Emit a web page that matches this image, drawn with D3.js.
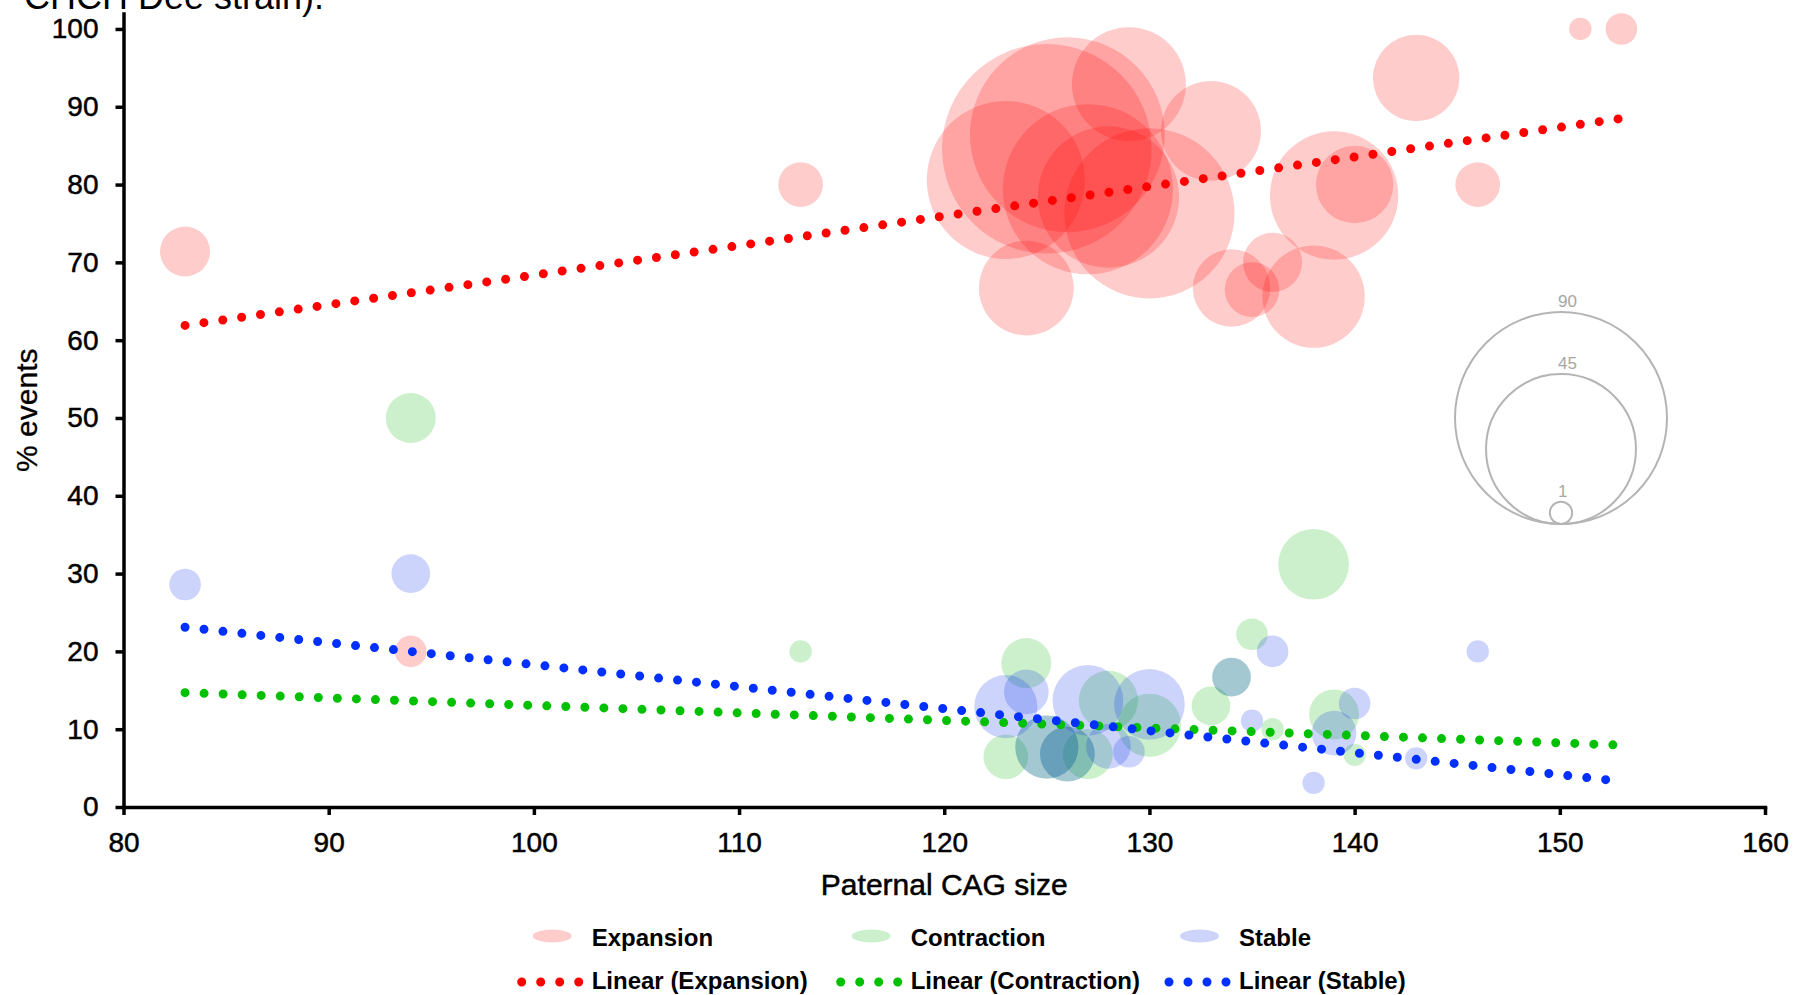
<!DOCTYPE html>
<html>
<head>
<meta charset="utf-8">
<script src="https://d3js.org/d3.v7.min.js"></script>
<style>
  body { margin: 0; background: #fff; }
  text { font-family: "Liberation Sans", Arial, sans-serif; }
</style>
</head>
<body>
<div id="chart"></div>
<script>
// paternal CAG size, % events, bubble size (number of events)
var expansionX = [83, 94, 113, 123, 124, 125, 126, 127, 128, 129, 130, 133, 134, 135, 136, 138, 139, 140, 143, 146, 151, 153];
var expansionY = [71.4, 20, 80, 80.6, 66.7, 84.6, 86.4, 79.4, 78.4, 92.9, 76.3, 86.9, 66.7, 66.5, 70, 65.6, 78.6, 80, 93.7, 80, 100, 100];
var expansionN = [5, 2, 4, 50, 18, 88, 76, 58, 40, 26, 58, 20, 12, 6, 7, 21, 33, 12, 15, 4, 1, 2];

var contractionX = [94, 113, 123, 124, 125, 126, 127, 128, 130, 133, 134, 135, 136, 138, 139, 140];
var contractionY = [50, 20, 6.45, 18.5, 7.7, 6.8, 6.8, 13.7, 10.5, 13, 16.7, 22.2, 10, 31.2, 11.9, 6.7];
var contractionN = [5, 1, 4, 5, 8, 6, 5, 7, 8, 3, 3, 2, 1, 10, 5, 1];

var stableX = [83, 94, 123, 124, 125, 126, 127, 128, 129, 130, 134, 135, 136, 138, 139, 140, 143, 146];
var stableY = [28.6, 30, 12.9, 14.8, 7.7, 6.8, 13.7, 7.8, 7.1, 13.2, 16.7, 11.1, 20, 3.1, 9.5, 13.3, 6.25, 20];
var stableN = [2, 3, 8, 4, 8, 6, 10, 4, 2, 10, 3, 1, 2, 1, 4, 2, 1, 1];

// linear trendlines (start, end)
var trendX = [83, 153];
var trendExpansion = [61.9, 88.5];
var trendContraction = [14.7, 7.95];
var trendStable = [23.1, 3.3];

var xTicks = [80, 90, 100, 110, 120, 130, 140, 150, 160];
var yTicks = [0, 10, 20, 30, 40, 50, 60, 70, 80, 90, 100];
var sizeKey = [90, 45, 1];

(function() {
  var width = 1797,
      height = 995;

  var svg = d3.select("#chart")
    .append("svg")
    .attr("width", width)
    .attr("height", height);

  var x = d3.scaleLinear().domain([80, 160]).range([123.5, 1765]);
  var y = d3.scaleLinear().domain([0, 102]).range([807, 13.4]);
  var r = d3.scaleSqrt().domain([0, 90]).range([0, 106]);

  // end of the caption line above, cut off by the crop
  svg.append("text")
    .attr("x", 24)
    .attr("y", 9)
    .style("font-size", "36px")
    .text("CHCH Dee strain).");

  var series = [
    {name: "Expansion", xs: expansionX, ys: expansionY, ns: expansionN, color: "#ff0000", line: "#ff0000", trend: trendExpansion},
    {name: "Contraction", xs: contractionX, ys: contractionY, ns: contractionN, color: "#00b400", line: "#00c000", trend: trendContraction},
    {name: "Stable", xs: stableX, ys: stableY, ns: stableN, color: "#0028eb", line: "#0030ff", trend: trendStable}
  ];

  series.forEach(function(s) {
    var pts = s.xs.map(function(v, i) { return {x: v, y: s.ys[i], n: s.ns[i]}; });
    svg.append("g")
      .selectAll("circle")
      .data(pts)
      .enter().append("circle")
      .attr("cx", function(d) { return x(d.x) })
      .attr("cy", function(d) { return y(d.y) })
      .attr("r", function(d) { return r(d.n) })
      .attr("fill", s.color)
      .attr("fill-opacity", 0.2);
  });

  var line = d3.line()
    .x(function(d) { return x(d[0]) })
    .y(function(d) { return y(d[1]) });

  series.forEach(function(s) {
    svg.append("path")
      .attr("d", line(trendX.map(function(v, i) { return [v, s.trend[i]]; })))
      .attr("fill", "none")
      .attr("stroke", s.line)
      .attr("stroke-width", 9)
      .attr("stroke-linecap", "round")
      .attr("stroke-dasharray", "0 19.05");
  });

  // axes
  var xAxis = svg.append("g")
    .attr("transform", "translate(0," + y(0) + ")")
    .call(d3.axisBottom(x).tickValues(xTicks).tickSize(8).tickSizeOuter(0).tickPadding(17));
  var yAxis = svg.append("g")
    .attr("transform", "translate(" + x(80) + ",0)")
    .call(d3.axisLeft(y).tickValues(yTicks).tickSize(8).tickSizeOuter(0).tickPadding(17));

  [xAxis, yAxis].forEach(function(a) {
    a.select(".domain").attr("stroke", "#000").attr("stroke-width", 3.5).attr("stroke-linecap", "square");
    a.selectAll(".tick line").attr("stroke", "#000").attr("stroke-width", 3.5);
    a.selectAll(".tick text")
      .attr("fill", "#000")
      .attr("stroke", "#000")
      .attr("stroke-width", 0.5)
      .style("font-size", "28px")
      .style("font-family", "'Liberation Sans', Arial, sans-serif");
  });

  svg.append("text")
    .attr("x", (x(80) + x(160)) / 2)
    .attr("y", 895)
    .attr("text-anchor", "middle")
    .attr("stroke", "#000")
    .attr("stroke-width", 0.5)
    .style("font-size", "30px")
    .text("Paternal CAG size");

  svg.append("text")
    .attr("transform", "translate(36.5," + (y(0) + y(102)) / 2 + ") rotate(-90)")
    .attr("text-anchor", "middle")
    .attr("stroke", "#000")
    .attr("stroke-width", 0.3)
    .style("font-size", "30px")
    .text("% events");

  // bubble size key
  var keyX = 1561, keyBottom = 524;
  var key = svg.append("g");
  key.selectAll("circle")
    .data(sizeKey)
    .enter().append("circle")
    .attr("cx", keyX)
    .attr("cy", function(d) { return keyBottom - r(d) })
    .attr("r", function(d) { return r(d) })
    .attr("fill", "none")
    .attr("stroke", "#b4b4b4")
    .attr("stroke-width", 2);
  key.selectAll("text")
    .data(sizeKey)
    .enter().append("text")
    .attr("x", keyX - 3)
    .attr("y", function(d) { return keyBottom - 2 * r(d) - 5 })
    .attr("fill", "#a6a6a6")
    .style("font-size", "17px")
    .text(function(d) { return d });

  // legend
  var legendText = [591.7, 910.7, 1239];
  var legend = svg.append("g");
  series.forEach(function(s, i) {
    legend.append("ellipse")
      .attr("cx", legendText[i] - 39.5)
      .attr("cy", 936)
      .attr("rx", 19.5)
      .attr("ry", 6.5)
      .attr("fill", s.color)
      .attr("fill-opacity", 0.2);
    legend.append("text")
      .attr("x", legendText[i])
      .attr("y", 945.5)
      .style("font-size", "24px")
      .style("font-weight", "bold")
      .text(s.name);
    legend.append("path")
      .attr("d", "M" + (legendText[i] - 70) + ",982H" + (legendText[i] - 12.8))
      .attr("stroke", s.line)
      .attr("stroke-width", 9)
      .attr("stroke-linecap", "round")
      .attr("stroke-dasharray", "0 19");
    legend.append("text")
      .attr("x", legendText[i])
      .attr("y", 989)
      .style("font-size", "24px")
      .style("font-weight", "bold")
      .text("Linear (" + s.name + ")");
  });
})();
</script>
</body>
</html>
